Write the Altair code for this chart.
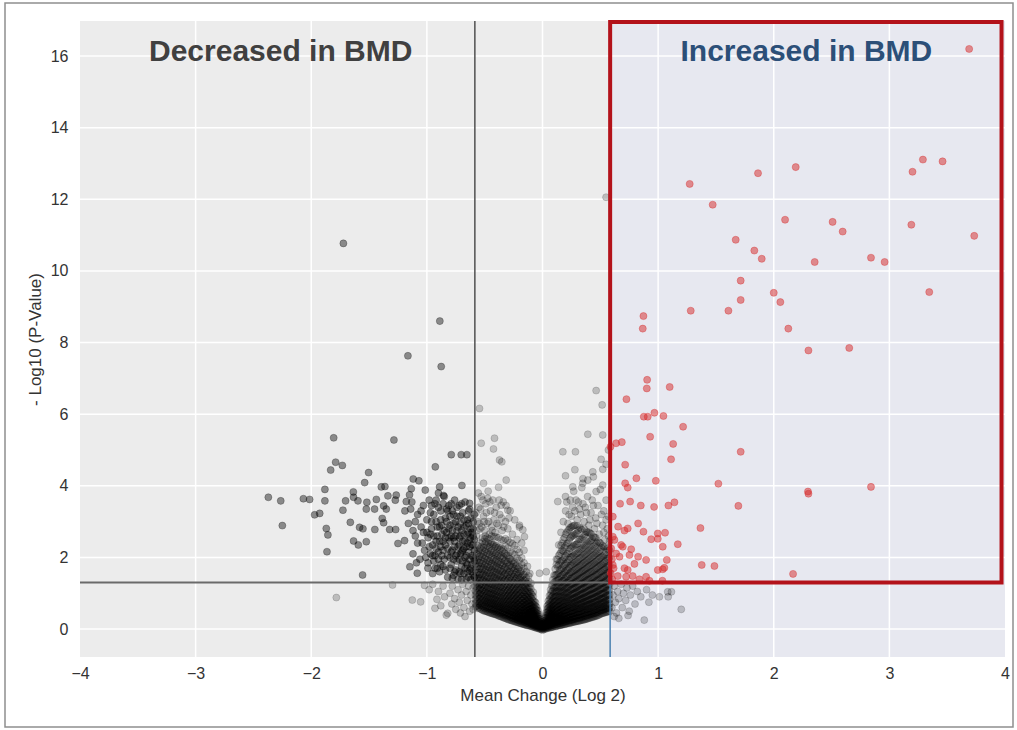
import altair as alt
import pandas as pd

# Significance cut-offs: |log2 fold change| > log2(1.5), p < 0.05
FC_CUT = 0.585
P_CUT = 1.301

X_MIN, X_MAX = -4, 4
Y_MIN, Y_MAX = -0.78, 16.98

x_ticks = [-4, -3, -2, -1, 0, 1, 2, 3, 4]
y_ticks = [0, 2, 4, 6, 8, 10, 12, 14, 16]
x_grid = [-3, -2, -1, 0, 1, 2, 3]
y_grid = [0, 2, 4, 6, 8, 10, 12, 14, 16]

# Proteins increased in BMD (log2 change, -log10 p)
up_points = [
    (3.69, 16.2), (1.273, 12.43), (1.864, 12.73), (2.19, 12.9), (3.2, 12.77), (3.29, 13.11), (3.46, 13.06),
    (1.472, 11.85), (2.098, 11.43), (2.509, 11.37), (2.596, 11.1), (3.19, 11.29), (3.734, 10.98),
    (1.671, 10.87), (1.832, 10.57), (1.896, 10.34), (2.354, 10.25), (2.841, 10.37), (2.959, 10.25),
    (1.714, 9.73), (2.0, 9.39), (2.057, 9.13), (3.345, 9.41), (1.714, 9.19), (1.282, 8.89), (1.608, 8.89),
    (0.873, 8.74), (0.867, 8.39), (2.126, 8.39), (2.3, 7.78), (2.653, 7.85),
    (0.905, 6.96), (0.902, 6.72), (1.1, 6.76), (0.726, 6.42), (0.876, 5.93), (0.91, 5.93), (0.968, 6.04),
    (1.046, 5.95), (1.216, 5.65), (0.931, 5.37), (1.13, 5.17), (0.686, 5.22), (0.637, 5.19), (0.588, 5.09),
    (1.714, 4.95), (1.112, 4.74), (0.715, 4.59), (0.812, 4.21), (0.98, 4.14), (0.715, 4.07), (0.737, 3.95),
    (1.521, 4.06), (2.296, 3.84), (2.3, 3.78), (2.841, 3.97),
    (0.671, 3.5), (0.758, 3.56), (0.85, 3.45), (0.965, 3.41), (1.089, 3.45), (1.141, 3.54), (1.694, 3.44),
    (1.366, 2.82), (0.827, 2.95), (0.654, 2.86), (0.709, 2.75), (0.737, 2.81), (0.873, 2.72), (0.997, 2.67),
    (1.06, 2.69), (0.94, 2.51), (0.997, 2.52), (1.04, 2.3), (1.17, 2.37), (0.68, 2.35), (0.694, 2.3),
    (0.608, 2.58), (0.594, 2.25), (0.767, 2.23), (0.752, 2.07), (0.827, 2.02), (0.896, 1.93), (1.075, 1.93),
    (0.637, 2.11), (0.666, 2.02), (0.709, 1.7), (0.737, 1.65), (0.795, 1.82), (0.997, 1.65), (1.04, 1.67),
    (1.054, 1.71), (1.377, 1.79), (1.487, 1.76), (2.167, 1.54), (0.651, 1.48), (0.723, 1.46), (0.78, 1.48),
    (0.896, 1.46), (0.925, 1.35), (1.037, 1.35), (0.608, 1.79), (0.59, 1.56), (0.602, 1.39), (0.838, 1.39),
    (0.608, 3.14), (0.622, 2.49), (0.6, 1.95), (0.615, 1.7),
]

# Proteins decreased in BMD
down_points = [
    (-1.722, 10.77), (-0.888, 8.6), (-1.164, 7.63), (-0.876, 7.33),
    (-1.806, 5.34), (-1.285, 5.28), (-0.789, 4.87), (-0.703, 4.87), (-0.654, 4.87), (-0.927, 4.53),
    (-1.789, 4.66), (-1.731, 4.57), (-1.832, 4.44), (-1.504, 4.37), (-1.538, 4.09), (-1.118, 4.19),
    (-1.069, 4.14), (-1.135, 3.92), (-1.014, 3.88), (-0.89, 3.97), (-0.856, 3.73), (-0.697, 4.01),
    (-1.394, 3.97), (-1.363, 3.98), (-1.882, 3.9), (-1.636, 3.83), (-2.371, 3.68), (-2.264, 3.58),
    (-2.068, 3.64), (-2.014, 3.62), (-1.882, 3.58), (-1.703, 3.58), (-1.634, 3.68), (-1.596, 3.58),
    (-1.519, 3.54), (-1.437, 3.62), (-1.337, 3.72), (-1.265, 3.74), (-1.273, 3.6), (-1.178, 3.56),
    (-1.726, 3.32), (-1.971, 3.19), (-1.927, 3.23), (-1.524, 3.35), (-1.452, 3.35), (-1.351, 3.35),
    (-1.374, 3.44), (-2.25, 2.89), (-1.87, 2.81), (-1.856, 2.63), (-1.662, 2.98), (-1.582, 2.84),
    (-1.553, 2.8), (-1.45, 2.78), (-1.386, 3.09), (-1.374, 2.97), (-1.322, 2.78), (-1.27, 2.78),
    (-1.634, 2.46), (-1.593, 2.35), (-1.524, 2.44), (-1.864, 2.16), (-1.25, 2.39), (-1.193, 2.47),
    (-1.147, 1.74), (-1.083, 1.56), (-0.991, 1.7), (-1.556, 1.51), (-0.631, 3.51),
    (-1.19, 3.3), (-1.16, 2.95), (-1.13, 3.55), (-1.1, 2.6), (-1.08, 3.2), (-1.05, 2.85), (-1.03, 3.45),
    (-1.02, 2.2), (-1.0, 3.05), (-0.99, 2.55), (-1.12, 2.1), (-1.06, 1.95), (-1.15, 3.75), (-0.98, 3.6),
    (-1.04, 2.4),
    (-0.97, 3.25), (-0.96, 2.8), (-0.95, 2.35), (-0.94, 1.9), (-0.93, 3.5), (-0.92, 3.0), (-0.91, 2.6),
    (-0.9, 2.15), (-0.89, 1.6), (-0.88, 3.3), (-0.87, 2.9), (-0.86, 2.45), (-0.86, 1.75), (-0.85, 3.7),
    (-0.84, 3.1), (-0.83, 2.7), (-0.82, 2.25), (-0.82, 1.45), (-0.81, 3.45), (-0.8, 2.0), (-0.95, 1.55),
    (-0.93, 2.05), (-0.9, 3.8), (-0.88, 2.3), (-0.85, 1.95), (-0.83, 3.35), (-0.97, 2.1), (-0.91, 1.7),
    (-0.87, 2.05), (-0.84, 2.55), (-0.81, 2.8), (-0.8, 3.15), (-0.96, 3.0), (-0.92, 2.45), (-0.89, 2.85),
    (-0.79, 2.6), (-0.79, 1.8), (-0.78, 3.3), (-0.78, 2.2), (-0.77, 2.95), (-0.77, 1.5), (-0.76, 2.45),
    (-0.76, 3.6), (-0.75, 2.05), (-0.75, 1.65), (-0.74, 2.75), (-0.74, 3.15), (-0.73, 2.3), (-0.73, 1.4),
    (-0.72, 1.95), (-0.72, 3.45), (-0.71, 2.6), (-0.71, 2.95), (-0.7, 1.75), (-0.7, 2.15), (-0.69, 3.25),
    (-0.69, 2.45), (-0.68, 1.55), (-0.68, 2.85), (-0.67, 2.0), (-0.67, 3.55), (-0.66, 2.3), (-0.66, 1.85),
    (-0.65, 2.65), (-0.65, 3.05), (-0.64, 1.45), (-0.64, 2.15), (-0.63, 2.5), (-0.63, 3.35), (-0.62, 1.7),
    (-0.62, 2.8), (-0.61, 2.05), (-0.61, 2.35), (-0.6, 1.5), (-0.6, 3.0), (-0.6, 2.6), (-0.59, 1.9),
    (-0.59, 2.2), (-0.62, 1.38), (-0.66, 1.4), (-0.7, 1.38), (-0.74, 1.9), (-0.77, 2.55), (-0.78, 1.42),
    (-0.8, 2.45), (-0.68, 2.25), (-0.64, 2.95), (-0.61, 1.6), (-0.65, 1.6), (-0.72, 2.35), (-0.75, 3.0),
    (-0.71, 1.55), (-0.63, 1.95), (-0.6, 2.8), (-0.69, 1.9),
    (-0.99, 1.85), (-0.98, 2.3), (-0.97, 2.65), (-0.96, 3.45), (-0.95, 2.05), (-0.94, 2.6), (-0.94, 3.2),
    (-0.93, 1.7), (-0.92, 2.25), (-0.92, 3.6), (-0.91, 2.85), (-0.9, 1.95), (-0.9, 3.4), (-0.89, 2.45),
    (-0.88, 1.8), (-0.88, 3.05), (-0.87, 2.65), (-0.86, 2.2), (-0.86, 3.5), (-0.85, 2.75), (-0.84, 1.65),
    (-0.84, 2.35), (-0.83, 3.0), (-0.82, 2.05), (-0.82, 3.3), (-0.81, 2.55), (-0.8, 1.7), (-0.8, 2.9),
    (-0.79, 2.15), (-0.79, 3.5), (-0.78, 2.75), (-0.77, 1.95), (-0.77, 3.2), (-0.76, 2.3), (-0.76, 1.6),
    (-0.75, 2.6), (-0.74, 2.1), (-0.74, 3.4), (-0.73, 2.85), (-0.72, 1.6), (-0.72, 2.55), (-0.71, 3.15),
    (-0.71, 2.1), (-0.7, 2.75), (-0.7, 3.5), (-0.69, 2.2), (-0.68, 2.65), (-0.68, 3.05), (-0.67, 1.7),
    (-0.67, 2.45), (-0.66, 2.9), (-0.66, 2.05), (-0.65, 1.8), (-0.65, 2.4), (-0.64, 2.7), (-0.64, 3.3),
    (-0.63, 1.65), (-0.63, 2.3), (-0.62, 2.55), (-0.62, 3.1), (-0.61, 1.8), (-0.61, 2.7), (-0.6, 2.0),
    (-0.6, 2.35), (-0.59, 1.45), (-0.59, 2.5), (-0.59, 3.2), (-1.1, 3.0), (-1.08, 2.4), (-1.05, 3.3),
    (-1.03, 2.7), (-1.01, 2.0), (-1.12, 2.75), (-1.14, 3.35), (-1.09, 1.85), (-1.0, 2.7),
]

# Non-significant proteins away from the central cloud
ns_scatter = [
    (-0.545, 6.16), (0.464, 6.66), (0.516, 6.26), (-0.53, 5.19), (-0.415, 5.33), (-0.424, 5.03),
    (-0.372, 4.72), (-0.352, 4.67), (-0.314, 4.16), (-0.51, 4.07), (-0.38, 3.96), (-0.473, 3.65),
    (-0.357, 3.46), (-0.3, 3.32), (0.392, 5.44), (0.521, 5.42), (0.176, 4.95), (0.285, 4.95),
    (0.507, 4.74), (0.435, 4.39), (0.521, 4.46), (0.199, 4.28), (0.262, 3.97), (0.348, 4.07),
    (0.392, 4.16), (0.464, 3.84), (0.521, 4.02), (0.132, 3.56), (0.199, 3.7), (0.55, 12.06),
    (-0.026, 1.56), (0.032, 1.6), (0.57, 5.0), (0.55, 4.6), (-0.199, 2.9), (-0.17, 2.77), (-0.156, 2.58),
    (-0.57, 2.6), (-0.56, 3.0), (-0.55, 3.4), (-0.54, 2.8), (-0.53, 3.7), (-0.52, 2.55), (-0.51, 3.15),
    (-0.5, 2.75), (-0.49, 3.5), (-0.48, 2.95), (-0.47, 3.85), (-0.46, 2.65), (-0.45, 3.3), (-0.44, 2.85),
    (-0.43, 3.6), (-0.42, 3.05), (-0.41, 2.7), (-0.4, 3.4), (-0.38, 2.9), (-0.37, 3.2), (-0.35, 2.75),
    (-0.34, 3.55), (-0.32, 3.0), (-0.3, 2.8), (-0.28, 3.3), (-0.26, 2.65), (-0.24, 3.05), (-0.22, 2.5),
    (-0.2, 2.85), (-0.18, 2.4), (-0.16, 2.2), (-0.13, 1.75), (-0.11, 1.55),
    (-0.575, 3.25), (-0.565, 2.75), (-0.555, 3.8), (-0.545, 2.95), (-0.535, 3.35), (-0.525, 2.85),
    (-0.515, 3.6), (-0.505, 3.0), (-0.495, 2.6), (-0.485, 3.25), (-0.465, 3.0), (-0.455, 3.55),
    (-0.435, 2.75), (-0.415, 3.25), (-0.395, 2.95), (-0.375, 3.6), (-0.355, 3.1), (-0.335, 2.85),
    (-0.315, 3.45), (-0.29, 3.1),
    (0.12, 1.95), (0.14, 2.35), (0.16, 2.7), (0.18, 3.0), (0.2, 3.3), (0.22, 2.95), (0.24, 3.6),
    (0.25, 3.15), (0.27, 3.85), (0.28, 3.3), (0.3, 3.05), (0.31, 3.55), (0.33, 3.2), (0.34, 3.95),
    (0.36, 3.0), (0.37, 3.4), (0.39, 3.7), (0.4, 2.9), (0.42, 3.25), (0.43, 3.6), (0.45, 2.8),
    (0.46, 3.1), (0.48, 3.45), (0.49, 2.65), (0.5, 3.9), (0.52, 2.9), (0.53, 3.3), (0.54, 2.5),
    (0.55, 3.6), (0.56, 2.8), (0.57, 3.15), (0.58, 2.45), (0.35, 4.2), (0.28, 4.45), (0.44, 4.25),
    (0.57, 2.6), (0.55, 3.05), (0.53, 2.7), (0.51, 3.2), (0.47, 2.95), (0.44, 3.45), (0.41, 3.05),
    (0.38, 3.25), (0.35, 3.5), (0.32, 3.35), (0.29, 3.6), (0.26, 3.4), (0.23, 3.2), (0.21, 3.55),
    (-1.297, 1.23), (-1.126, 0.81), (-1.054, 0.76), (-0.913, 0.83), (-0.847, 0.9), (-0.832, 0.39),
    (-0.784, 0.7), (-0.82, 0.44), (-1.783, 0.88), (-0.98, 1.1), (-0.95, 1.25), (-0.9, 1.05),
    (-0.88, 0.65), (-0.86, 1.2), (-0.8, 1.0), (-0.78, 1.2), (-0.76, 0.85), (-0.75, 0.55), (-0.73, 1.1),
    (-0.72, 0.75), (-0.7, 0.95), (-0.69, 1.25), (-0.68, 0.6), (-0.66, 1.05), (-0.65, 0.8), (-0.64, 1.2),
    (-0.63, 0.5), (-0.62, 0.95), (-0.61, 0.7), (-0.6, 1.15), (-0.6, 0.55), (-1.02, 1.22), (-0.93, 0.58),
    (-0.71, 0.45), (-0.67, 0.35),
    (0.6, 0.6), (0.61, 0.95), (0.62, 1.2), (0.63, 0.75), (0.64, 0.45), (0.65, 1.05), (0.66, 0.85),
    (0.68, 1.25), (0.69, 0.6), (0.7, 1.0), (0.72, 0.8), (0.73, 1.15), (0.75, 0.5), (0.76, 0.95),
    (0.78, 1.2), (0.8, 0.7), (0.82, 1.05), (0.85, 0.9), (0.88, 0.25), (0.9, 1.1), (0.92, 0.75),
    (1.011, 0.9), (1.083, 1.04), (1.087, 0.9), (1.115, 1.04), (1.2, 0.55), (0.62, 0.35), (0.66, 0.3),
    (0.95, 0.95), (0.74, 0.38),
]

# Dense central cloud of non-significant proteins, listed column by column
ns_core = [
    (-0.58, [0.62, 0.72, 0.83, 0.95, 1.07, 1.2, 1.34, 1.49, 1.65, 1.82, 2.0, 2.22]),
    (-0.57, [0.64, 0.77, 0.89, 1.01, 1.14, 1.27, 1.41, 1.57, 1.73, 1.91, 2.1]),
    (-0.56, [0.58, 0.67, 0.78, 0.9, 1.02, 1.15, 1.29, 1.43, 1.58, 1.75, 1.93, 2.12, 2.33]),
    (-0.55, [0.6, 0.71, 0.84, 0.96, 1.09, 1.22, 1.36, 1.51, 1.67, 1.84, 2.02, 2.2]),
    (-0.54, [0.57, 0.66, 0.76, 0.87, 0.99, 1.11, 1.24, 1.38, 1.53, 1.69, 1.86, 2.04, 2.24, 2.4]),
    (-0.53, [0.55, 0.67, 0.78, 0.9, 1.02, 1.15, 1.29, 1.43, 1.58, 1.74, 1.92, 2.1, 2.3]),
    (-0.52, [0.53, 0.62, 0.72, 0.83, 0.95, 1.08, 1.21, 1.35, 1.5, 1.66, 1.83, 2.01, 2.2, 2.43]),
    (-0.51, [0.52, 0.64, 0.75, 0.86, 0.98, 1.11, 1.24, 1.38, 1.54, 1.7, 1.88, 2.07, 2.28]),
    (-0.50, [0.5, 0.59, 0.69, 0.8, 0.92, 1.04, 1.17, 1.31, 1.46, 1.62, 1.79, 1.97, 2.16, 2.37, 2.52]),
    (-0.49, [0.5, 0.62, 0.72, 0.82, 0.94, 1.06, 1.2, 1.34, 1.5, 1.66, 1.84, 2.03, 2.23, 2.44]),
    (-0.48, [0.49, 0.57, 0.67, 0.77, 0.88, 1.0, 1.13, 1.27, 1.42, 1.58, 1.75, 1.93, 2.12, 2.33, 2.55]),
    (-0.47, [0.47, 0.6, 0.7, 0.8, 0.91, 1.03, 1.16, 1.31, 1.46, 1.63, 1.8, 1.99, 2.2, 2.41]),
    (-0.46, [0.46, 0.55, 0.64, 0.74, 0.85, 0.97, 1.1, 1.24, 1.39, 1.55, 1.72, 1.9, 2.09, 2.3, 2.52]),
    (-0.45, [0.45, 0.57, 0.67, 0.77, 0.88, 1.0, 1.13, 1.27, 1.42, 1.59, 1.77, 1.96, 2.17, 2.38]),
    (-0.44, [0.44, 0.53, 0.62, 0.72, 0.83, 0.95, 1.07, 1.2, 1.34, 1.49, 1.65, 1.82, 2.0, 2.19, 2.4, 2.6]),
    (-0.43, [0.43, 0.55, 0.65, 0.75, 0.86, 0.98, 1.11, 1.25, 1.4, 1.57, 1.74, 1.93, 2.13, 2.35]),
    (-0.42, [0.42, 0.5, 0.59, 0.69, 0.8, 0.91, 1.03, 1.16, 1.3, 1.45, 1.61, 1.78, 1.96, 2.15, 2.36, 2.58]),
    (-0.41, [0.41, 0.53, 0.62, 0.72, 0.83, 0.95, 1.08, 1.22, 1.37, 1.53, 1.7, 1.89, 2.09, 2.3]),
    (-0.40, [0.4, 0.48, 0.57, 0.67, 0.77, 0.88, 1.0, 1.13, 1.27, 1.42, 1.58, 1.75, 1.93, 2.12, 2.33, 2.57]),
    (-0.39, [0.39, 0.5, 0.6, 0.7, 0.8, 0.92, 1.05, 1.19, 1.34, 1.5, 1.67, 1.85, 2.05, 2.27]),
    (-0.38, [0.37, 0.45, 0.54, 0.63, 0.73, 0.84, 0.96, 1.09, 1.23, 1.38, 1.54, 1.71, 1.89, 2.08, 2.29, 2.55]),
    (-0.37, [0.36, 0.47, 0.57, 0.66, 0.77, 0.89, 1.02, 1.16, 1.31, 1.47, 1.63, 1.81, 2.01, 2.22]),
    (-0.36, [0.35, 0.43, 0.51, 0.6, 0.7, 0.81, 0.93, 1.06, 1.2, 1.35, 1.51, 1.68, 1.86, 2.05, 2.26, 2.5]),
    (-0.35, [0.34, 0.45, 0.54, 0.63, 0.74, 0.86, 0.99, 1.13, 1.27, 1.43, 1.6, 1.78, 1.97, 2.18]),
    (-0.34, [0.32, 0.4, 0.48, 0.57, 0.67, 0.78, 0.9, 1.03, 1.17, 1.32, 1.48, 1.65, 1.83, 2.02, 2.23, 2.47]),
    (-0.33, [0.31, 0.42, 0.51, 0.61, 0.71, 0.82, 0.94, 1.07, 1.21, 1.36, 1.52, 1.7, 1.9, 2.12]),
    (-0.32, [0.3, 0.38, 0.46, 0.55, 0.65, 0.75, 0.86, 0.98, 1.11, 1.25, 1.4, 1.56, 1.73, 1.91, 2.1, 2.32, 2.52]),
    (-0.31, [0.29, 0.39, 0.48, 0.57, 0.67, 0.78, 0.9, 1.03, 1.17, 1.32, 1.48, 1.65, 1.84, 2.05]),
    (-0.30, [0.27, 0.35, 0.43, 0.52, 0.61, 0.71, 0.82, 0.94, 1.07, 1.21, 1.36, 1.52, 1.69, 1.87, 2.06, 2.27, 2.48]),
    (-0.29, [0.26, 0.37, 0.45, 0.54, 0.64, 0.75, 0.86, 0.98, 1.11, 1.25, 1.41, 1.58, 1.76, 1.97]),
    (-0.28, [0.25, 0.33, 0.41, 0.49, 0.58, 0.68, 0.79, 0.91, 1.03, 1.16, 1.3, 1.45, 1.61, 1.78, 1.96, 2.16, 2.42]),
    (-0.27, [0.24, 0.34, 0.42, 0.51, 0.61, 0.71, 0.82, 0.94, 1.06, 1.2, 1.35, 1.51, 1.69, 1.89]),
    (-0.26, [0.23, 0.3, 0.38, 0.46, 0.55, 0.65, 0.75, 0.86, 0.98, 1.11, 1.25, 1.4, 1.56, 1.73, 1.91, 2.12, 2.38]),
    (-0.25, [0.22, 0.31, 0.39, 0.48, 0.57, 0.67, 0.78, 0.9, 1.02, 1.15, 1.3, 1.46, 1.63, 1.82]),
    (-0.24, [0.21, 0.28, 0.35, 0.43, 0.52, 0.61, 0.71, 0.82, 0.94, 1.07, 1.21, 1.36, 1.52, 1.69, 1.87, 2.08, 2.33]),
    (-0.23, [0.2, 0.29, 0.37, 0.45, 0.54, 0.64, 0.74, 0.85, 0.97, 1.1, 1.24, 1.4, 1.57, 1.76]),
    (-0.22, [0.19, 0.26, 0.33, 0.41, 0.49, 0.58, 0.68, 0.78, 0.89, 1.01, 1.14, 1.28, 1.43, 1.59, 1.77, 1.98, 2.22]),
    (-0.21, [0.18, 0.26, 0.34, 0.42, 0.5, 0.59, 0.69, 0.8, 0.92, 1.04, 1.18, 1.33, 1.5, 1.68]),
    (-0.20, [0.17, 0.23, 0.3, 0.37, 0.45, 0.54, 0.63, 0.73, 0.84, 0.96, 1.09, 1.23, 1.38, 1.54, 1.72, 1.92, 2.14]),
    (-0.19, [0.16, 0.24, 0.31, 0.39, 0.47, 0.56, 0.65, 0.75, 0.86, 0.98, 1.11, 1.26, 1.42, 1.6]),
    (-0.18, [0.15, 0.21, 0.28, 0.35, 0.43, 0.51, 0.6, 0.7, 0.8, 0.91, 1.03, 1.16, 1.3, 1.45, 1.62, 1.8, 1.99]),
    (-0.17, [0.14, 0.22, 0.29, 0.36, 0.43, 0.52, 0.61, 0.7, 0.8, 0.91, 1.03, 1.17, 1.32, 1.5]),
    (-0.16, [0.13, 0.19, 0.25, 0.32, 0.39, 0.47, 0.55, 0.64, 0.74, 0.85, 0.96, 1.08, 1.21, 1.36, 1.52, 1.7, 1.85]),
    (-0.15, [0.12, 0.2, 0.26, 0.33, 0.4, 0.48, 0.56, 0.65, 0.74, 0.84, 0.95, 1.08, 1.22, 1.38]),
    (-0.14, [0.11, 0.17, 0.23, 0.29, 0.36, 0.43, 0.51, 0.6, 0.69, 0.79, 0.9, 1.01, 1.14, 1.28, 1.43, 1.6]),
    (-0.13, [0.1, 0.17, 0.23, 0.29, 0.36, 0.43, 0.51, 0.59, 0.68, 0.78, 0.88, 1.0, 1.13, 1.27]),
    (-0.12, [0.1, 0.15, 0.2, 0.26, 0.32, 0.39, 0.46, 0.54, 0.63, 0.72, 0.82, 0.93, 1.05, 1.18, 1.33, 1.48]),
    (-0.11, [0.09, 0.15, 0.2, 0.26, 0.32, 0.39, 0.46, 0.54, 0.62, 0.71, 0.81, 0.92, 1.04, 1.17]),
    (-0.10, [0.08, 0.13, 0.18, 0.23, 0.29, 0.35, 0.42, 0.49, 0.57, 0.66, 0.76, 0.87, 0.99, 1.12, 1.28]),
    (-0.09, [0.07, 0.12, 0.17, 0.22, 0.28, 0.34, 0.41, 0.48, 0.56, 0.64, 0.73, 0.84, 0.96]),
    (-0.08, [0.06, 0.1, 0.15, 0.2, 0.25, 0.31, 0.37, 0.44, 0.52, 0.6, 0.69, 0.79, 0.91, 1.03]),
    (-0.07, [0.05, 0.09, 0.14, 0.19, 0.24, 0.3, 0.36, 0.43, 0.5, 0.58, 0.67, 0.77]),
    (-0.06, [0.04, 0.08, 0.12, 0.17, 0.22, 0.27, 0.33, 0.4, 0.47, 0.55, 0.64, 0.74]),
    (-0.05, [0.03, 0.07, 0.11, 0.16, 0.21, 0.26, 0.32, 0.38, 0.45, 0.53, 0.61]),
    (-0.04, [0.02, 0.06, 0.1, 0.14, 0.19, 0.24, 0.3, 0.36, 0.43, 0.52]),
    (-0.03, [0.01, 0.05, 0.09, 0.13, 0.18, 0.23, 0.29, 0.35, 0.41]),
    (-0.02, [0.0, 0.04, 0.08, 0.12, 0.17, 0.22, 0.28]),
    (-0.01, [-0.01, 0.03, 0.07, 0.11, 0.15, 0.2]),
    (0.00, [-0.03, 0.01, 0.05, 0.09]),
    (0.01, [-0.01, 0.03, 0.07, 0.11, 0.16, 0.21]),
    (0.02, [0.0, 0.04, 0.08, 0.13, 0.18, 0.24, 0.31]),
    (0.03, [0.01, 0.05, 0.09, 0.14, 0.19, 0.25, 0.31, 0.38, 0.46]),
    (0.04, [0.02, 0.06, 0.1, 0.15, 0.2, 0.26, 0.32, 0.39, 0.47, 0.56, 0.64]),
    (0.05, [0.03, 0.07, 0.11, 0.16, 0.22, 0.28, 0.35, 0.42, 0.5, 0.59, 0.68, 0.78]),
    (0.06, [0.04, 0.08, 0.13, 0.18, 0.24, 0.3, 0.37, 0.44, 0.52, 0.61, 0.71, 0.82, 0.93]),
    (0.07, [0.04, 0.09, 0.14, 0.2, 0.26, 0.32, 0.39, 0.47, 0.55, 0.64, 0.74, 0.86, 0.98, 1.1]),
    (0.08, [0.05, 0.1, 0.15, 0.21, 0.27, 0.34, 0.41, 0.49, 0.58, 0.68, 0.79, 0.91, 1.04, 1.2]),
    (0.09, [0.06, 0.11, 0.17, 0.23, 0.29, 0.36, 0.43, 0.51, 0.6, 0.7, 0.81, 0.93, 1.07, 1.22, 1.38]),
    (0.10, [0.07, 0.12, 0.18, 0.24, 0.3, 0.37, 0.45, 0.54, 0.64, 0.75, 0.87, 1.0, 1.14, 1.3, 1.5]),
    (0.11, [0.07, 0.13, 0.19, 0.25, 0.32, 0.39, 0.47, 0.56, 0.66, 0.77, 0.89, 1.02, 1.16, 1.32, 1.5, 1.68]),
    (0.12, [0.08, 0.14, 0.2, 0.26, 0.33, 0.41, 0.49, 0.58, 0.68, 0.79, 0.91, 1.04, 1.18, 1.34, 1.52, 1.8]),
    (0.13, [0.09, 0.15, 0.21, 0.28, 0.35, 0.43, 0.51, 0.6, 0.7, 0.81, 0.93, 1.06, 1.2, 1.36, 1.54, 1.75, 1.95]),
    (0.14, [0.1, 0.16, 0.22, 0.29, 0.36, 0.44, 0.53, 0.62, 0.72, 0.83, 0.95, 1.08, 1.22, 1.38, 1.56, 1.78, 2.05]),
    (0.15, [0.1, 0.16, 0.23, 0.3, 0.37, 0.45, 0.54, 0.64, 0.75, 0.87, 1.0, 1.14, 1.29, 1.46, 1.65, 1.87, 2.1]),
    (0.16, [0.11, 0.17, 0.24, 0.31, 0.39, 0.47, 0.56, 0.66, 0.77, 0.89, 1.02, 1.16, 1.31, 1.48, 1.67, 1.9, 2.15, 2.33]),
    (0.17, [0.12, 0.18, 0.25, 0.32, 0.4, 0.49, 0.58, 0.68, 0.79, 0.91, 1.04, 1.18, 1.34, 1.51, 1.7, 1.92, 2.2, 2.4]),
    (0.18, [0.13, 0.19, 0.26, 0.34, 0.42, 0.51, 0.6, 0.7, 0.81, 0.93, 1.06, 1.2, 1.35, 1.52, 1.71, 1.93, 2.18, 2.5]),
    (0.19, [0.13, 0.2, 0.27, 0.35, 0.43, 0.52, 0.62, 0.72, 0.84, 0.96, 1.1, 1.24, 1.4, 1.58, 1.78, 2.0, 2.28, 2.55]),
    (0.20, [0.14, 0.21, 0.28, 0.36, 0.44, 0.53, 0.63, 0.74, 0.86, 0.99, 1.13, 1.28, 1.44, 1.62, 1.82, 2.05, 2.32, 2.65]),
    (0.21, [0.15, 0.22, 0.29, 0.37, 0.46, 0.55, 0.65, 0.76, 0.88, 1.01, 1.15, 1.3, 1.47, 1.65, 1.86, 2.1, 2.38, 2.7]),
    (0.22, [0.16, 0.23, 0.3, 0.38, 0.47, 0.56, 0.66, 0.77, 0.89, 1.02, 1.16, 1.31, 1.48, 1.66, 1.87, 2.1, 2.4, 2.75]),
    (0.23, [0.16, 0.23, 0.31, 0.39, 0.48, 0.58, 0.68, 0.8, 0.92, 1.05, 1.2, 1.36, 1.53, 1.72, 1.94, 2.18, 2.48, 2.78]),
    (0.24, [0.17, 0.24, 0.32, 0.4, 0.49, 0.59, 0.7, 0.82, 0.95, 1.09, 1.24, 1.4, 1.58, 1.78, 2.0, 2.25, 2.55, 2.83]),
    (0.25, [0.18, 0.25, 0.33, 0.42, 0.51, 0.61, 0.72, 0.83, 0.96, 1.1, 1.25, 1.41, 1.59, 1.79, 2.01, 2.27, 2.58, 2.85]),
    (0.26, [0.19, 0.26, 0.34, 0.43, 0.52, 0.62, 0.73, 0.85, 0.98, 1.12, 1.27, 1.43, 1.61, 1.81, 2.03, 2.3, 2.6, 2.88]),
    (0.27, [0.2, 0.27, 0.35, 0.44, 0.53, 0.63, 0.74, 0.86, 0.99, 1.13, 1.28, 1.45, 1.63, 1.83, 2.05, 2.32, 2.62, 2.88]),
    (0.28, [0.2, 0.28, 0.36, 0.45, 0.55, 0.65, 0.76, 0.88, 1.01, 1.15, 1.3, 1.47, 1.65, 1.85, 2.08, 2.35, 2.65, 2.9]),
    (0.29, [0.21, 0.29, 0.37, 0.46, 0.56, 0.66, 0.77, 0.89, 1.02, 1.16, 1.32, 1.49, 1.67, 1.87, 2.1, 2.36, 2.66]),
    (0.30, [0.22, 0.3, 0.38, 0.47, 0.57, 0.68, 0.79, 0.91, 1.04, 1.18, 1.34, 1.51, 1.69, 1.89, 2.12, 2.38, 2.68, 2.88]),
    (0.31, [0.22, 0.3, 0.39, 0.48, 0.58, 0.69, 0.81, 0.93, 1.06, 1.21, 1.37, 1.54, 1.72, 1.93, 2.16, 2.44, 2.76]),
    (0.32, [0.23, 0.31, 0.4, 0.49, 0.59, 0.7, 0.82, 0.95, 1.09, 1.24, 1.4, 1.57, 1.76, 1.97, 2.21, 2.5, 2.84]),
    (0.33, [0.24, 0.32, 0.41, 0.5, 0.6, 0.71, 0.83, 0.96, 1.1, 1.25, 1.41, 1.59, 1.78, 1.99, 2.23, 2.5, 2.8]),
    (0.34, [0.25, 0.33, 0.42, 0.52, 0.62, 0.73, 0.85, 0.98, 1.12, 1.27, 1.43, 1.61, 1.8, 2.01, 2.25, 2.52, 2.78]),
    (0.35, [0.25, 0.34, 0.43, 0.53, 0.63, 0.74, 0.86, 0.99, 1.13, 1.28, 1.45, 1.63, 1.82, 2.04, 2.28, 2.56]),
    (0.36, [0.26, 0.35, 0.44, 0.54, 0.64, 0.76, 0.88, 1.01, 1.15, 1.3, 1.47, 1.65, 1.85, 2.07, 2.32, 2.6, 2.8]),
    (0.37, [0.27, 0.36, 0.45, 0.55, 0.65, 0.77, 0.89, 1.02, 1.17, 1.32, 1.49, 1.67, 1.87, 2.09, 2.34, 2.64]),
    (0.38, [0.28, 0.37, 0.46, 0.56, 0.67, 0.78, 0.91, 1.04, 1.19, 1.35, 1.52, 1.7, 1.9, 2.12, 2.37, 2.72]),
    (0.39, [0.29, 0.38, 0.47, 0.57, 0.68, 0.8, 0.92, 1.06, 1.21, 1.37, 1.54, 1.72, 1.92, 2.15, 2.4, 2.7]),
    (0.40, [0.3, 0.39, 0.48, 0.58, 0.69, 0.81, 0.94, 1.08, 1.23, 1.39, 1.56, 1.75, 1.95, 2.18, 2.44, 2.7]),
    (0.41, [0.31, 0.4, 0.49, 0.59, 0.7, 0.82, 0.95, 1.09, 1.24, 1.4, 1.58, 1.77, 1.97, 2.2, 2.46, 2.68]),
    (0.42, [0.32, 0.41, 0.5, 0.61, 0.72, 0.84, 0.97, 1.11, 1.26, 1.42, 1.6, 1.79, 2.0, 2.23, 2.48, 2.66]),
    (0.43, [0.33, 0.42, 0.51, 0.62, 0.73, 0.85, 0.98, 1.12, 1.27, 1.43, 1.61, 1.81, 2.02, 2.26, 2.52]),
    (0.44, [0.34, 0.43, 0.53, 0.63, 0.74, 0.86, 0.99, 1.13, 1.28, 1.45, 1.63, 1.83, 2.05, 2.3, 2.58]),
    (0.45, [0.35, 0.44, 0.54, 0.64, 0.75, 0.88, 1.01, 1.15, 1.3, 1.47, 1.65, 1.85, 2.07, 2.32, 2.56]),
    (0.46, [0.36, 0.45, 0.55, 0.66, 0.77, 0.9, 1.03, 1.17, 1.33, 1.5, 1.68, 1.88, 2.1, 2.35, 2.55]),
    (0.47, [0.37, 0.46, 0.56, 0.67, 0.78, 0.91, 1.04, 1.19, 1.35, 1.52, 1.7, 1.9, 2.12, 2.4]),
    (0.48, [0.38, 0.47, 0.57, 0.68, 0.8, 0.92, 1.06, 1.21, 1.37, 1.54, 1.73, 1.93, 2.15, 2.45]),
    (0.49, [0.4, 0.49, 0.59, 0.7, 0.82, 0.94, 1.08, 1.23, 1.39, 1.57, 1.76, 1.96, 2.18, 2.42]),
    (0.50, [0.42, 0.51, 0.61, 0.72, 0.84, 0.97, 1.11, 1.26, 1.42, 1.6, 1.79, 2.0, 2.22, 2.4]),
    (0.51, [0.43, 0.52, 0.62, 0.73, 0.85, 0.98, 1.12, 1.27, 1.43, 1.61, 1.8, 2.01, 2.27]),
    (0.52, [0.44, 0.53, 0.63, 0.74, 0.86, 0.99, 1.13, 1.28, 1.45, 1.63, 1.82, 2.03, 2.33]),
    (0.53, [0.45, 0.54, 0.64, 0.75, 0.87, 1.0, 1.14, 1.3, 1.47, 1.65, 1.84, 2.05, 2.3]),
    (0.54, [0.46, 0.55, 0.66, 0.77, 0.89, 1.02, 1.16, 1.32, 1.49, 1.67, 1.87, 2.08, 2.3]),
    (0.55, [0.47, 0.57, 0.67, 0.79, 0.91, 1.05, 1.19, 1.35, 1.53, 1.72, 1.92, 2.15]),
    (0.56, [0.48, 0.58, 0.69, 0.81, 0.94, 1.08, 1.23, 1.39, 1.57, 1.76, 1.97, 2.24]),
    (0.57, [0.49, 0.59, 0.7, 0.82, 0.95, 1.09, 1.24, 1.4, 1.58, 1.77, 1.98, 2.2]),
    (0.58, [0.5, 0.6, 0.71, 0.83, 0.96, 1.1, 1.25, 1.41, 1.59, 1.78, 2.0, 2.2]),
]

ns_rows = list(ns_scatter)
for cx, ys in ns_core:
    ns_rows += [(cx, y) for y in ys]

df_ns = pd.DataFrame(ns_rows, columns=["log2fc", "nlog10p"])
df_down = pd.DataFrame(down_points, columns=["log2fc", "nlog10p"])
df_up = pd.DataFrame(up_points, columns=["log2fc", "nlog10p"])
one = pd.DataFrame({"k": [0]})

FONT = "Liberation Sans"
xscale = alt.Scale(domain=[X_MIN, X_MAX], nice=False, zero=False)
yscale = alt.Scale(domain=[Y_MIN, Y_MAX], nice=False, zero=False)

# Every layer carries the same axis definition so the shared axes merge cleanly
x_axis = alt.Axis(
    values=x_ticks, title="Mean Change (Log 2)", grid=False, ticks=False, domain=False,
    labelFlush=False, labelFont=FONT, labelFontSize=16, labelColor="#333333", labelPadding=8,
    titleFont=FONT, titleFontSize=17, titleFontWeight="normal", titleColor="#333333", titlePadding=6,
)
y_axis = alt.Axis(
    values=y_ticks, title="- Log10 (P-Value)", grid=False, ticks=False, domain=False,
    labelFont=FONT, labelFontSize=16, labelColor="#333333", labelPadding=12,
    titleFont=FONT, titleFontSize=17, titleFontWeight="normal", titleColor="#333333", titlePadding=6,
)


def xd(v):
    return alt.XDatum(v, type="quantitative", scale=xscale, axis=x_axis)


def yd(v):
    return alt.YDatum(v, type="quantitative", scale=yscale, axis=y_axis)


def xf(field):
    return alt.X(field, type="quantitative", scale=xscale, axis=x_axis)


def yf(field):
    return alt.Y(field, type="quantitative", scale=yscale, axis=y_axis)


# Tinted "increased" half of the plot
bg_right = alt.Chart(one).mark_rect(color="#e7e8f0").encode(
    x=xd(FC_CUT), x2=alt.X2Datum(X_MAX), y=yd(Y_MIN), y2=alt.Y2Datum(Y_MAX)
)

vgrid = alt.Chart(pd.DataFrame({"v": x_grid})).mark_rule(color="white", strokeWidth=1.5).encode(x=xf("v"))
hgrid = alt.Chart(pd.DataFrame({"v": y_grid})).mark_rule(color="white", strokeWidth=1.5).encode(y=yf("v"))

ns_layer = alt.Chart(df_ns).mark_circle(
    size=50, opacity=1, fill="black", fillOpacity=0.2, stroke="black", strokeOpacity=0.15, strokeWidth=1
).encode(x=xf("log2fc"), y=yf("nlog10p"))
down_layer = alt.Chart(df_down).mark_circle(
    size=50, opacity=1, fill="black", fillOpacity=0.42, stroke="black", strokeOpacity=0.25, strokeWidth=1
).encode(x=xf("log2fc"), y=yf("nlog10p"))
up_layer = alt.Chart(df_up).mark_circle(
    size=50, opacity=1, fill="#d62728", fillOpacity=0.5, stroke="#d62728", strokeOpacity=0.35, strokeWidth=1
).encode(x=xf("log2fc"), y=yf("nlog10p"))

# Threshold lines
v_down = alt.Chart(one).mark_rule(color="#505050", strokeWidth=1.5).encode(x=xd(-FC_CUT))
h_p = alt.Chart(one).mark_rule(color="#6a6a6a", strokeWidth=2).encode(
    x=xd(X_MIN), x2=alt.X2Datum(FC_CUT), y=yd(P_CUT)
)
v_up = alt.Chart(one).mark_rule(color="#4a80b0", strokeWidth=1.5).encode(
    x=xd(FC_CUT), y=yd(Y_MIN), y2=alt.Y2Datum(P_CUT)
)
up_box = alt.Chart(one).mark_rect(fillOpacity=0, stroke="#b3121a", strokeWidth=4).encode(
    x=xd(FC_CUT), x2=alt.X2Datum(3.97), y=yd(P_CUT), y2=alt.Y2Datum(16.95)
)

label_down = alt.Chart(one).mark_text(
    text="Decreased in BMD", font=FONT, fontSize=30, fontWeight="bold", color="#404040",
    align="center", baseline="alphabetic"
).encode(x=xd(-2.264), y=yd(15.85))
label_up = alt.Chart(one).mark_text(
    text="Increased in BMD", font=FONT, fontSize=30, fontWeight="bold", color="#2c4f78",
    align="center", baseline="alphabetic"
).encode(x=xd(2.282), y=yd(15.85))

# Thin frame around the whole figure
frame = alt.Chart(one).mark_rect(fillOpacity=0, stroke="#8f8f8f", strokeWidth=1.5).encode(
    x=alt.value(-75), x2=alt.value(933), y=alt.value(-18), y2=alt.value(706)
)

chart = alt.layer(
    bg_right, vgrid, hgrid, ns_layer, down_layer, up_layer,
    v_down, h_p, v_up, up_box, label_down, label_up, frame,
).properties(
    width=925,
    height=636,
    autosize=alt.AutoSizeParams(type="none"),
    padding={"left": 80, "top": 21, "right": 12, "bottom": 73},
    background="white",
).configure_view(fill="#ececec", strokeWidth=0)

chart.save("out.html", embed_options={"renderer": "svg", "actions": False})
